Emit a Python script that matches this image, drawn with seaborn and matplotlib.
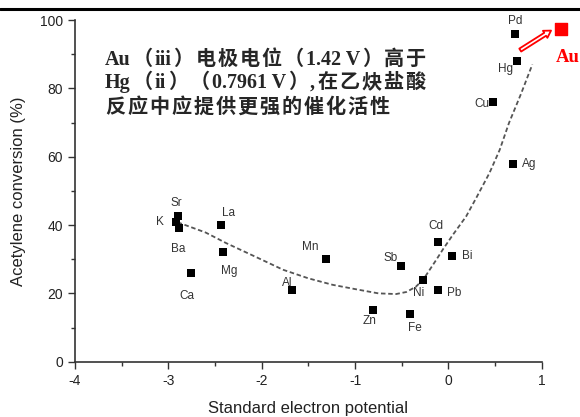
import numpy as np
import pandas as pd
import matplotlib.pyplot as plt
import seaborn as sns
from matplotlib.lines import Line2D
from matplotlib.ticker import MultipleLocator
from matplotlib.offsetbox import TextArea, HPacker, AnnotationBbox

# ---------------- data ----------------
metals = ["K", "Sr", "Ba", "Ca", "La", "Mg", "Al", "Mn", "Zn", "Fe",
          "Sb", "Ni", "Cd", "Pb", "Bi", "Ag", "Cu", "Hg", "Pd"]
potential = [-2.92, -2.90, -2.89, -2.76, -2.44, -2.41, -1.67, -1.31, -0.81, -0.41,
             -0.51, -0.27, -0.11, -0.11, 0.035, 0.69, 0.48, 0.74, 0.71]
conversion = [41, 42.6, 39, 26, 40, 32, 21, 30, 15, 14,
              28, 24, 35, 21, 31, 58, 76, 88, 96]

# dashed trend curve
curve_x = [-2.9, -2.6, -2.38, -2.05, -1.77, -1.5, -1.24, -0.99, -0.75, -0.56,
           -0.45, -0.35, -0.27, -0.20, -0.13, -0.06, 0.05, 0.19, 0.30, 0.44,
           0.55, 0.65, 0.78, 0.9]
curve_y = [40.8, 37.8, 34.7, 30.5, 26.9, 24.4, 22.5, 21.2, 20.0, 19.8,
           20.4, 21.9, 24.0, 26.9, 29.8, 32.8, 37.2, 42.5, 48.0, 55.2,
           62.0, 69.9, 78.5, 87.0]

# gold point (outside the axis range)
au_x = [1.21]
au_y = [97.5]

note_lines = ["Au（iii）电极电位（1.42 V）高于",
              "Hg（ii）（0.7961 V）,在乙炔盐酸",
              "反应中应提供更强的催化活性"]

# label offsets in pixels (dx right, dy down)
label_off = {"K": (-16, 0), "Sr": (-1, -13), "Ba": (0, 21), "Ca": (-4, 23),
             "La": (8, -12), "Mg": (6, 19), "Al": (-5, -7), "Mn": (-16, -12),
             "Zn": (-3, 11), "Fe": (5, 14), "Sb": (-10, -8), "Ni": (-5, 13),
             "Cd": (-2, -16), "Pb": (16, 3), "Bi": (16, 0), "Ag": (16, 0),
             "Cu": (-11, 2), "Hg": (-12, 8), "Pd": (1, -13)}

df = pd.DataFrame({"metal": metals, "E": potential, "conv": conversion})
curve = pd.DataFrame({"E": curve_x, "conv": curve_y})

# ---------------- style ----------------
sns.set_style("ticks")
plt.rcParams["font.family"] = ["Liberation Sans", "DejaVu Sans"]
plt.rcParams["axes.unicode_minus"] = False

W, H = 580, 417
fig = plt.figure(figsize=(W / 100, H / 100), dpi=100)
ax = fig.add_axes([75 / W, 1 - 361.7 / H, (541.7 - 75) / W, (361.7 - 20) / H])

sns.lineplot(data=curve, x="E", y="conv", ax=ax, color="#555555", lw=1.3,
             linestyle=(0, (2.5, 1.5)), sort=False)
sns.scatterplot(data=df, x="E", y="conv", ax=ax, marker="s", s=32,
                color="black", edgecolor="black", linewidth=0, zorder=3)

for m, xv, yv in zip(metals, potential, conversion):
    dx, dy = label_off[m]
    ax.annotate(m, (xv, yv), xytext=(dx * 0.72, -dy * 0.72),
                textcoords="offset points", ha="center", va="center",
                fontsize=8.5, color="#333333")

# gold marker and hollow arrow
ax.scatter(au_x, au_y, marker="s", s=85, color="red", clip_on=False, zorder=4)
ax.annotate("", xy=(1.10, 96.9), xytext=(0.77, 91.2),
            arrowprops=dict(arrowstyle="simple,head_length=0.5,head_width=0.6,tail_width=0.25",
                            fc="white", ec="red", lw=1.3, shrinkA=0, shrinkB=0),
            annotation_clip=False)

ax.set_xlim(-4, 1)
ax.set_ylim(0, 100)
ax.xaxis.set_major_locator(MultipleLocator(1))
ax.xaxis.set_minor_locator(MultipleLocator(0.5))
ax.yaxis.set_major_locator(MultipleLocator(20))
ax.yaxis.set_minor_locator(MultipleLocator(10))
ax.tick_params(which="major", length=5, width=1, color="#333333",
               labelsize=10, labelcolor="#222222")
ax.tick_params(which="minor", length=3, width=1, color="#333333")
ax.set_xlabel("Standard electron potential", fontsize=12, color="#222222")
ax.set_ylabel("Acetylene conversion (%)", fontsize=12, color="#222222")
ax.xaxis.set_label_coords(0.5, -0.115)
ax.yaxis.set_label_coords(-0.105, 0.5)
for s in ["left", "bottom"]:
    ax.spines[s].set_color("#333333")
    ax.spines[s].set_linewidth(1.2)
sns.despine(ax=ax)


# Chinese note: each CJK character as its own box so the lines get
# the same loose spacing as the original
def tokens(line):
    out, run = [], ""
    for ch in line:
        if ord(ch) < 128:
            run += ch
        else:
            if run:
                out.append(run)
                run = ""
            out.append(ch)
    if run:
        out.append(run)
    return out


note_props = dict(fontsize=14.5, fontweight="bold",
                  family=["Liberation Serif", "Noto Sans CJK SC"])
for line, yy in zip(note_lines, [60, 83, 108]):
    boxes = [TextArea(t, textprops=note_props) for t in tokens(line)]
    pack = HPacker(children=boxes, sep=1.4, pad=0, align="baseline")
    ab = AnnotationBbox(pack, (105 / W, 1 - yy / H), xycoords="figure fraction",
                        box_alignment=(0, 0.5), frameon=False, pad=0)
    fig.add_artist(ab)

fig.text(556 / W, 1 - 57 / H, "Au", ha="left", va="center", fontsize=13.5,
         fontweight="bold", color="red", family=["Liberation Serif"])

# black rule at the top
fig.add_artist(Line2D([0, 1], [1 - 8.5 / H, 1 - 8.5 / H], color="black", lw=2.2))

fig.savefig("out.png", dpi=100)
